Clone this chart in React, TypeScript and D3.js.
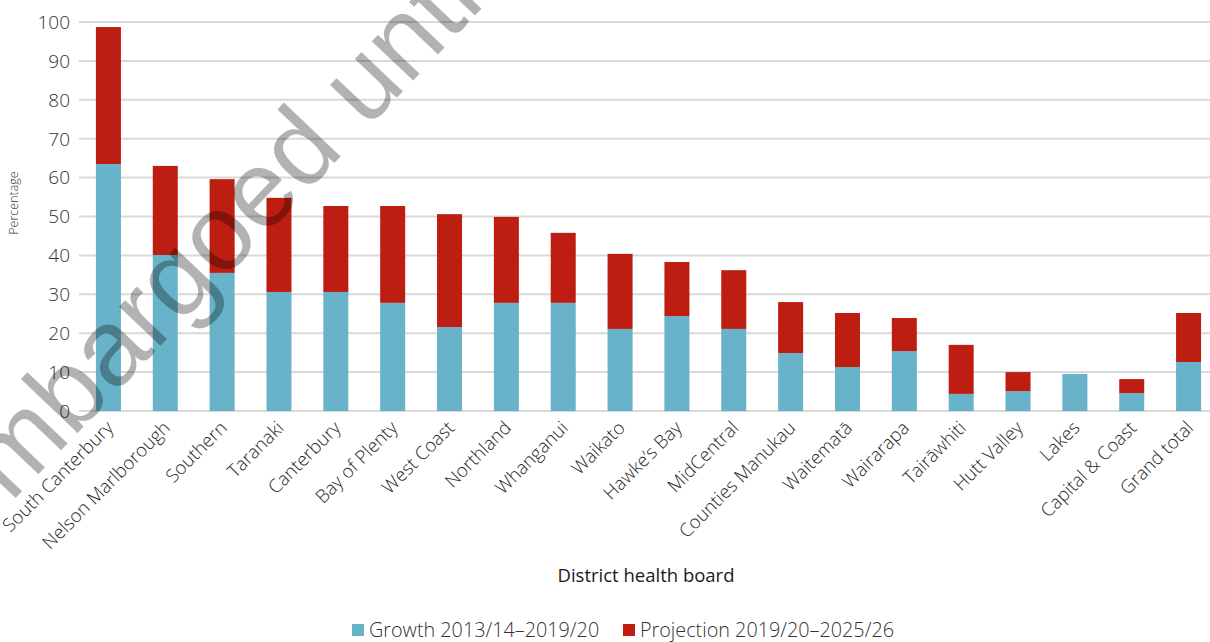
import * as d3 from 'd3'

const boards = [
  'South Canterbury', 'Nelson Marlborough', 'Southern', 'Taranaki', 'Canterbury',
  'Bay of Plenty', 'West Coast', 'Northland', 'Whanganui', 'Waikato',
  'Hawke\u2019s Bay', 'MidCentral', 'Counties Manukau', 'Waitemat\u0101', 'Wairarapa',
  'Tair\u0101whiti', 'Hutt Valley', 'Lakes', 'Capital & Coast', 'Grand total',
]
const growth = [63.5, 40.1, 35.5, 30.6, 30.6, 27.8, 21.6, 27.8, 27.8, 21.1, 24.4, 21.1, 14.9, 11.3, 15.4, 4.4, 5.1, 9.5, 4.6, 12.6]
const projection = [35.2, 22.9, 24.1, 24.2, 22.1, 24.9, 29.0, 22.1, 18.0, 19.3, 13.9, 15.1, 13.1, 13.9, 8.5, 12.6, 4.9, 0, 3.6, 12.6]
const yTicks = [0, 10, 20, 30, 40, 50, 60, 70, 80, 90, 100]
const seriesNames = ['Growth 2013/14\u20132019/20', 'Projection 2019/20\u20132025/26']
const colors = ['#68b3c9', '#bd1e11']

const W = 1210
const H = 642
const font = '"Open Sans", Lato, sans-serif'

export default function App() {
  const x = d3.scaleBand().domain(boards).range([80, 1217]).paddingInner(0.56).paddingOuter(0.28)
  const y = d3.scaleLinear().domain([0, 100]).range([411, 22])

  const rows = boards.map((b, i) => ({ board: b, growth: growth[i], projection: projection[i] }))
  const stacked = d3.stack<any>().keys(['growth', 'projection'])(rows)

  return (
    <svg width={W} height={H} style={{ position: 'absolute', left: 0, top: 0, background: '#fff' }}>
      {/* gridlines */}
      {yTicks.map(t => (
        <line key={t} x1={79} x2={W} y1={y(t)} y2={y(t)} stroke="#d9d9d9" strokeWidth={2} />
      ))}
      {yTicks.map(t => (
        <text key={'l' + t} x={70} y={y(t)} dy="0.36em" textAnchor="end" fontFamily={font}
          fontWeight={300} fontSize={19} fill="#333">{t}</text>
      ))}
      <text transform="translate(18,203) rotate(-90)" textAnchor="middle" fontFamily={font}
        fontWeight={300} fontSize={12.5} fill="#333">Percentage</text>

      {/* stacked bars */}
      {stacked.map((s, si) => (
        <g key={si} fill={colors[si]}>
          {s.map((d, i) => (
            <rect key={i} x={x(boards[i])} width={x.bandwidth()} y={y(d[1])}
              height={Math.max(0, y(d[0]) - y(d[1]))} />
          ))}
        </g>
      ))}

      {/* category labels */}
      {boards.map(b => (
        <text key={b} transform={`translate(${(x(b) || 0) + x.bandwidth() / 2 + 6},${429}) rotate(-45)`}
          textAnchor="end" fontFamily={font} fontWeight={300} fontSize={18.5} fill="#2a2a2a">{b}</text>
      ))}

      <text x={646} y={582} textAnchor="middle" fontFamily={font} fontWeight={500} fontSize={18.5}
        fill="#1a1a1a">District health board</text>

      {/* legend */}
      {seriesNames.map((n, i) => {
        const lx = i === 0 ? 352 : 623
        return (
          <g key={n}>
            <rect x={lx} y={624} width={12} height={12} fill={colors[i]} />
            <text x={lx + 17} y={637} fontFamily={font} fontWeight={300} fontSize={19.8} fill="#333">{n}</text>
          </g>
        )
      })}

      {/* watermark */}
      <text transform="translate(-31,547) rotate(-46.4)" fontFamily='"Liberation Sans", Arial, sans-serif'
        fontSize={108} fill="#000" fillOpacity={0.3}>embargoed until</text>
    </svg>
  )
}
